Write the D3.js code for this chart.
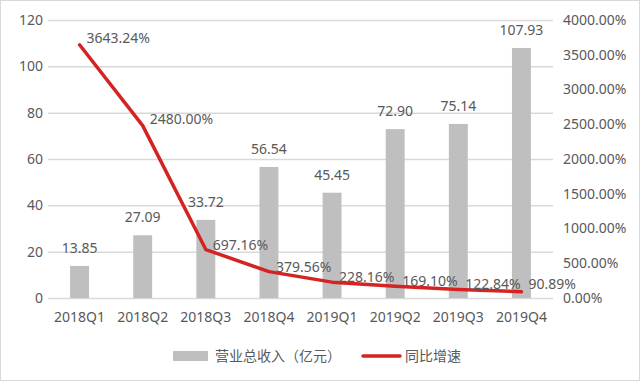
<!DOCTYPE html>
<html>
<head>
<meta charset="utf-8">
<script src="https://cdn.jsdelivr.net/npm/d3@7"></script>
<style>
  body { margin: 0; background: #fff; }
  text { font-family: "Noto Sans", "Noto Sans CJK SC", sans-serif; fill: #595959; }
</style>
</head>
<body>
<div id="vis"></div>
<script>
const FRAME_WIDTH = 640;
const FRAME_HEIGHT = 381;
const MARGINS = {left: 48, right: 87, top: 20, bottom: 83};

const quarters = ['2018Q1', '2018Q2', '2018Q3', '2018Q4', '2019Q1', '2019Q2', '2019Q3', '2019Q4'];
const revenue = [13.85, 27.09, 33.72, 56.54, 45.45, 72.90, 75.14, 107.93];
const growth = [3643.24, 2480.00, 697.16, 379.56, 228.16, 169.10, 122.84, 90.89];
const leftTicks = [0, 20, 40, 60, 80, 100, 120];
const rightTicks = [0, 500, 1000, 1500, 2000, 2500, 3000, 3500, 4000];
const legendNames = ['营业总收入（亿元）', '同比增速'];

const VIS_WIDTH = FRAME_WIDTH - MARGINS.left - MARGINS.right;
const VIS_HEIGHT = FRAME_HEIGHT - MARGINS.top - MARGINS.bottom;

const FRAME = d3.select('#vis')
  .append('svg')
    .attr('width', FRAME_WIDTH)
    .attr('height', FRAME_HEIGHT);

// outer frame
FRAME.append('rect')
  .attr('x', 0.5).attr('y', 0.5)
  .attr('width', FRAME_WIDTH - 1).attr('height', FRAME_HEIGHT - 1)
  .attr('fill', 'none').attr('stroke', '#d9d9d9');

const X_SCALE = d3.scaleBand().domain(quarters).range([0, VIS_WIDTH]).paddingInner(0.7).paddingOuter(0.35);
const Y_LEFT = d3.scaleLinear().domain([0, 120]).range([VIS_HEIGHT, 0]);
const Y_RIGHT = d3.scaleLinear().domain([0, 4000]).range([VIS_HEIGHT, 0]);

const G = FRAME.append('g').attr('transform', 'translate(' + MARGINS.left + ',' + MARGINS.top + ')');

// grid
G.selectAll('.grid')
  .data(leftTicks)
  .enter()
  .append('line')
    .attr('x1', 0).attr('x2', VIS_WIDTH)
    .attr('y1', d => Y_LEFT(d) + 0.5).attr('y2', d => Y_LEFT(d) + 0.5)
    .attr('stroke', '#d9d9d9').attr('stroke-width', 1.5);

// left axis
const leftAxis = G.append('g')
  .call(d3.axisLeft(Y_LEFT).tickValues(leftTicks).tickSize(0).tickPadding(5));
leftAxis.select('.domain').remove();
leftAxis.selectAll('text').attr('font-size', '14px').attr('fill', '#595959');

// right axis
const rightAxis = G.append('g')
  .attr('transform', 'translate(' + (VIS_WIDTH + 10) + ',0)')
  .call(d3.axisRight(Y_RIGHT).tickValues(rightTicks).tickSize(0).tickPadding(0)
    .tickFormat(d => d3.format('.2f')(d) + '%'));
rightAxis.select('.domain').remove();
rightAxis.selectAll('text').attr('font-size', '14px').attr('fill', '#595959');

// bottom axis
const bottomAxis = G.append('g')
  .attr('transform', 'translate(0,' + VIS_HEIGHT + ')')
  .call(d3.axisBottom(X_SCALE).tickSize(0).tickPadding(14));
bottomAxis.select('.domain').remove();
bottomAxis.selectAll('text').attr('font-size', '14px').attr('fill', '#595959');

// bars
G.selectAll('.bar')
  .data(revenue)
  .enter()
  .append('rect')
    .attr('x', (d, i) => X_SCALE(quarters[i]))
    .attr('y', d => Y_LEFT(d))
    .attr('width', X_SCALE.bandwidth())
    .attr('height', d => VIS_HEIGHT - Y_LEFT(d))
    .attr('fill', '#bfbfbf');

G.selectAll('.barlabel')
  .data(revenue)
  .enter()
  .append('text')
    .attr('x', (d, i) => X_SCALE(quarters[i]) + X_SCALE.bandwidth() / 2)
    .attr('y', d => Y_LEFT(d) - 13)
    .attr('text-anchor', 'middle')
    .attr('font-size', '14px')
    .text(d => d3.format('.2f')(d));

// line
const cx = i => X_SCALE(quarters[i]) + X_SCALE.bandwidth() / 2;
const line = d3.line()
  .x((d, i) => cx(i))
  .y(d => Y_RIGHT(d));

G.append('path')
  .datum(growth)
  .attr('d', line)
  .attr('fill', 'none')
  .attr('stroke', '#d42323')
  .attr('stroke-width', 3.5)
  .attr('stroke-linejoin', 'round')
  .attr('stroke-linecap', 'round');

// last label nudged up so it clears the 0.00% tick
G.selectAll('.linelabel')
  .data(growth)
  .enter()
  .append('text')
    .attr('x', (d, i) => cx(i) + 7)
    .attr('y', (d, i) => Y_RIGHT(d) - (i < 2 ? 2 : (i === growth.length - 1 ? 3 : 0)))
    .attr('font-size', '14px')
    .text(d => d3.format('.2f')(d) + '%');

// legend
const LEG = FRAME.append('g').attr('transform', 'translate(0,356)');
LEG.append('rect').attr('x', 173).attr('y', -5).attr('width', 35).attr('height', 10).attr('fill', '#bfbfbf');
LEG.append('text').attr('x', 215).attr('y', 5).attr('font-size', '14px').text(legendNames[0]);
LEG.append('line').attr('x1', 363).attr('x2', 400).attr('y1', 0).attr('y2', 0)
  .attr('stroke', '#d42323').attr('stroke-width', 3.5).attr('stroke-linecap', 'round');
LEG.append('text').attr('x', 405).attr('y', 5).attr('font-size', '14px').text(legendNames[1]);
</script>
</body>
</html>
